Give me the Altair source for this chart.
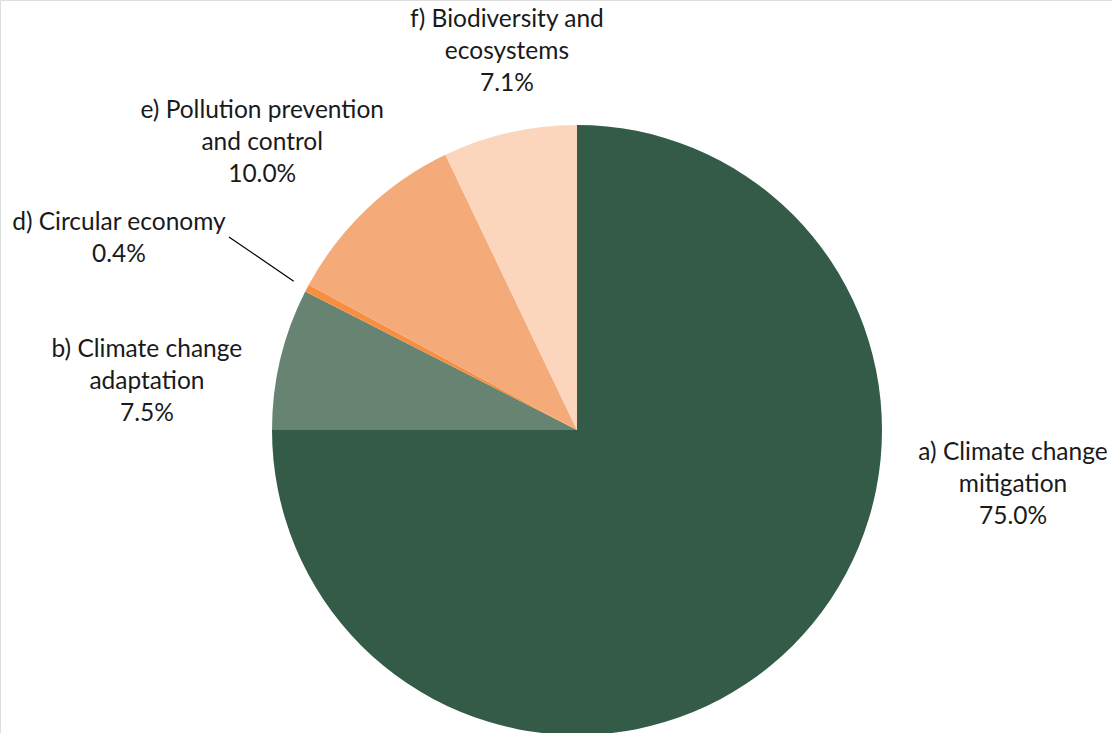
import math
import altair as alt
import pandas as pd

# Shares of the portfolio by environmental objective
objectives = [
    "a) Climate change mitigation",
    "b) Climate change adaptation",
    "d) Circular economy",
    "e) Pollution prevention and control",
    "f) Biodiversity and ecosystems",
]
label_lines = [
    "a) Climate change\nmitigation",
    "b) Climate change\nadaptation",
    "d) Circular economy",
    "e) Pollution prevention\nand control",
    "f) Biodiversity and\necosystems",
]
shares = [75.0, 7.5, 0.4, 10.0, 7.1]
colors = ["#335B48", "#678473", "#F78F42", "#F5AA7A", "#FBD6BD"]

# Pie geometry (pixels)
CX, CY, R = 577, 430, 305
# Anchor of each label's first line: angle (deg, clockwise from 12 o'clock) and distance
label_angle = [93.0, 280.5, 294.3, 315.4, 350.3]
label_dist = [436.6, 437.4, 502.6, 448.3, 415.9]

df = pd.DataFrame({
    "objective": objectives,
    "share": shares,
    "order": list(range(len(objectives))),
    "label": [f"{t}\n{v:.1f}%" for t, v in zip(label_lines, shares)],
    "label_deg": label_angle,
    "label_r": label_dist,
})

# Leader line for the thin circular-economy slice: starts just outside the
# slice at its mid-angle and runs out towards its label
cum = 0.0
mids = []
for v in shares:
    mids.append((cum + v / 2) / 100 * 2 * math.pi)
    cum += v
mid_d = mids[2]
outer_d = mid_d + math.radians(1.3)
leader = pd.DataFrame({
    "x": [CX + 320 * math.sin(mid_d)],
    "y": [CY - 320 * math.cos(mid_d)],
    "x2": [CX + 398 * math.sin(outer_d)],
    "y2": [CY - 398 * math.cos(outer_d)],
})

FONT = "Lato"

pie = alt.Chart(df).mark_arc(outerRadius=R).encode(
    theta=alt.Theta("share:Q", stack=True),
    order=alt.Order("order:Q"),
    color=alt.Color(
        "objective:N",
        scale=alt.Scale(domain=objectives, range=colors),
        legend=None,
    ),
    x=alt.value(CX),
    y=alt.value(CY),
)

labels = alt.Chart(df).mark_text(
    font=FONT,
    fontSize=24.5,
    lineBreak="\n",
    lineHeight=32,
    align="center",
    baseline="middle",
    color="#1a1a1a",
).encode(
    theta=alt.Theta(
        "label_deg:Q",
        scale=alt.Scale(domain=[0, 360], range=[0, 2 * math.pi]),
        stack=None,
    ),
    radius=alt.Radius("label_r:Q", scale=None),
    text="label:N",
    x=alt.value(CX),
    y=alt.value(CY),
)

line = alt.Chart(leader).mark_rule(color="#000000", strokeWidth=1.2).encode(
    x=alt.X("x:Q", scale=None, axis=None),
    y=alt.Y("y:Q", scale=None, axis=None),
    x2="x2:Q",
    y2="y2:Q",
)

chart = (
    alt.layer(pie, line, labels)
    .resolve_scale(theta="independent")
    .properties(width=1112, height=733, padding=0, autosize=alt.AutoSizeParams(type="none"))
    .configure_view(stroke=None)
    .configure(background="#ffffff")
)

chart.save("out.html", embed_options={"renderer": "svg", "actions": False})
